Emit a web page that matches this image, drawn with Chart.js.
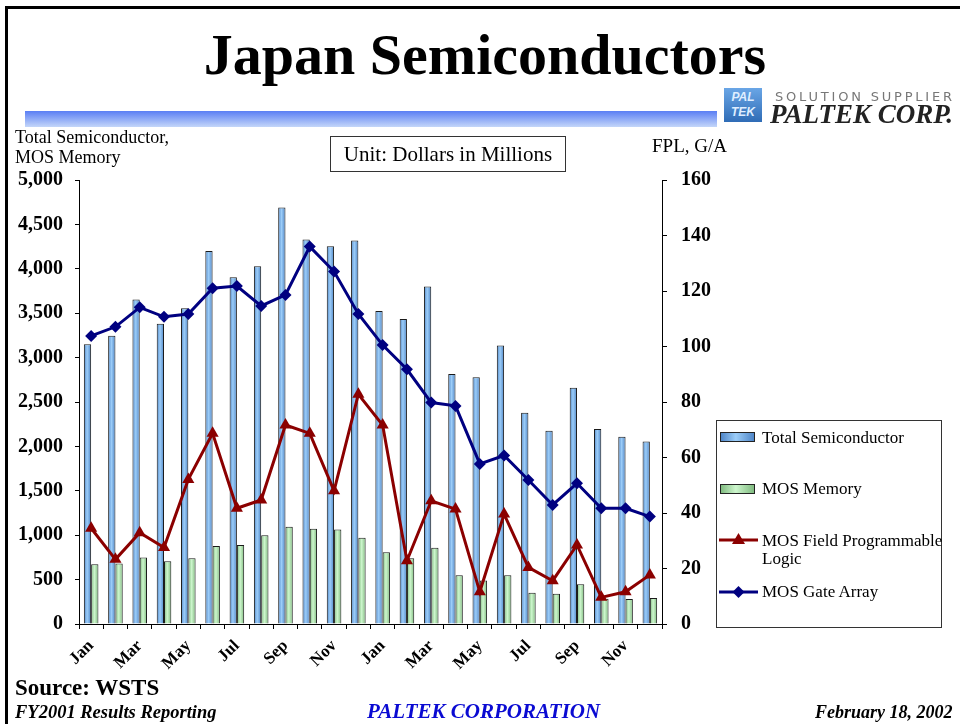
<!DOCTYPE html>
<html>
<head>
<meta charset="utf-8">
<script src="https://cdn.jsdelivr.net/npm/chart.js@4.4.1/dist/chart.umd.min.js"></script>
<style>
    body { margin: 0; background: #fff; }
    #wrap { position: relative; width: 960px; height: 724px; overflow: hidden; font-family: "Liberation Serif", "Times New Roman", serif; color: #000; }
    #chart { position: absolute; left: 0; top: 0; }
    .t { position: absolute; white-space: nowrap; line-height: 1; }
    #frame { position: absolute; left: 5px; top: 6px; width: 960px; height: 730px; border-top: 3px solid #000; border-left: 3px solid #000; box-sizing: border-box; }
    #band { position: absolute; left: 25px; top: 111px; width: 692px; height: 16px; background: linear-gradient(#5a7ef4, #c4d6f9); }
    #icon { position: absolute; left: 724px; top: 88px; width: 38px; height: 34px; background: linear-gradient(#6aa6e6, #2f6cb6); color: #dfeeff; font: italic bold 12px "Liberation Sans", sans-serif; line-height: 15px; text-align: center; padding-top: 2px; box-sizing: border-box; }
    #legend { position: absolute; left: 716px; top: 420px; width: 226px; height: 208px; border: 1px solid #333; box-sizing: border-box; }
    .sw { position: absolute; left: 720px; width: 35px; height: 10px; border: 1px solid #222; box-sizing: border-box; }
    .lg { position: absolute; left: 762px; font-size: 17px; line-height: 1; white-space: nowrap; }
</style>
</head>
<body>
<div id="wrap">
    <canvas id="chart" width="960" height="724"></canvas>
    <div id="frame"></div>

    <div class="t" style="left:0; width:970px; text-align:center; top:26px; font-size:58px; font-weight:bold;">Japan Semiconductors</div>
    <div id="band"></div>
    <div id="icon">PAL<br>TEK</div>
    <div class="t" style="left:775px; top:89px; font:13px 'DejaVu Sans', sans-serif; letter-spacing:2.8px; color:#777;">SOLUTION SUPPLIER</div>
    <div class="t" style="left:770px; top:101px; font-size:27px; font-weight:bold; font-style:italic; color:#222;">PALTEK CORP.</div>

    <div class="t" style="left:15px; top:128px; font-size:18px;">Total Semiconductor,</div>
    <div class="t" style="left:15px; top:148px; font-size:18px;">MOS Memory</div>
    <div class="t" style="left:330px; top:136px; width:236px; height:36px; border:1px solid #333; box-sizing:border-box; font-size:21px; text-align:center; padding-top:7px;">Unit: Dollars in Millions</div>
    <div class="t" style="left:652px; top:136px; font-size:19px;">FPL, G/A</div>

    <div id="legend"></div>
    <div class="sw" style="top:432px; background:linear-gradient(to right,#4f86c8,#9ccdf8 45%,#4f86c8);"></div>
    <div class="lg" style="top:429px;">Total Semiconductor</div>
    <div class="sw" style="top:484px; background:linear-gradient(to right,#80bb80,#cdf6cd 45%,#80bb80);"></div>
    <div class="lg" style="top:480px;">MOS Memory</div>
    <svg style="position:absolute; left:718px; top:530px;" width="42" height="20">
        <line x1="1" y1="10" x2="40" y2="10" stroke="#8b0000" stroke-width="3"/>
        <polygon points="20.5,3 27,14 14,14" fill="#8b0000"/>
    </svg>
    <div class="lg" style="top:532px;">MOS Field Programmable</div>
    <div class="lg" style="top:550px;">Logic</div>
    <svg style="position:absolute; left:718px; top:582px;" width="42" height="20">
        <line x1="1" y1="10" x2="40" y2="10" stroke="#000080" stroke-width="3"/>
        <polygon points="20.5,4 26.5,10 20.5,16 14.5,10" fill="#000080"/>
    </svg>
    <div class="lg" style="top:583px;">MOS Gate Array</div>

    <div class="t" style="left:15px; top:676px; font-size:23px; font-weight:bold;">Source: WSTS</div>
    <div class="t" style="left:15px; top:703px; font-size:18.5px; font-weight:bold; font-style:italic;">FY2001 Results Reporting</div>
    <div class="t" style="left:367px; top:701px; font-size:21px; font-weight:bold; font-style:italic; color:#0a0ad2;">PALTEK CORPORATION</div>
    <div class="t" style="left:815px; top:703px; font-size:18px; font-weight:bold; font-style:italic;">February 18, 2002</div>
</div>

<script>
"use strict";

// Jan 2000 .. Dec 2001
const months = ["Jan","Feb","Mar","Apr","May","Jun","Jul","Aug","Sep","Oct","Nov","Dec",
                "Jan","Feb","Mar","Apr","May","Jun","Jul","Aug","Sep","Oct","Nov","Dec"]

// left axis, $M
const totalSemi = [3150, 3245, 3655, 3380, 3555, 4200, 3905, 4030, 4690, 4330, 4255, 4320,
                   3525, 3435, 3800, 2815, 2780, 3135, 2380, 2175, 2660, 2195, 2110, 2055]
const mosMemory = [672, 680, 750, 706, 740, 878, 890, 1000, 1095, 1072, 1065, 972,
                   807, 740, 860, 548, 490, 548, 353, 341, 447, 285, 282, 293]

// right axis, $M
const fpl = [34.5, 23.3, 32.9, 27.6, 52.1, 68.7, 41.7, 44.7, 71.7, 68.7, 48.0, 82.8,
             71.7, 22.8, 44.4, 41.4, 11.6, 39.6, 20.4, 15.6, 28.5, 9.6, 11.6, 17.7]
const gateArray = [103.8, 107.1, 114.1, 110.7, 111.7, 121.0, 121.8, 114.6, 118.6, 136.0, 127.0, 111.7,
                   100.5, 91.8, 79.8, 78.6, 57.7, 60.7, 51.9, 42.9, 50.7, 41.7, 41.7, 38.7]

const leftTicks = [0, 5000, 500]
const rightTicks = [0, 160, 20]

const CAT_PCT = 0.6

// shaded look of the bars: darker edges, light middle
function barShade(dark, light) {
    return c => {
        const chart = c.chart
        const x = chart.scales.x
        if (!x || c.dataIndex === undefined || !chart.chartArea) return light
        const center = x.getPixelForValue(c.dataIndex)
        const w = x.width / months.length * CAT_PCT / 2
        const left = c.datasetIndex === 0 ? center - w : center
        const g = chart.ctx.createLinearGradient(left, 0, left + w, 0)
        g.addColorStop(0, dark)
        g.addColorStop(0.45, light)
        g.addColorStop(1, dark)
        return g
    }
}

const tickFont = { family: "Liberation Serif", weight: "bold", size: 20 }

const config = {
    data: {
        labels: months,
        datasets: [
            {
                type: "bar",
                label: "Total Semiconductor",
                data: totalSemi,
                yAxisID: "y",
                backgroundColor: barShade("#4f86c8", "#9ccdf8"),
                borderColor: "#1a1a1a",
                borderWidth: 1,
                barPercentage: 1.0,
                categoryPercentage: CAT_PCT,
                order: 2
            },
            {
                type: "bar",
                label: "MOS Memory",
                data: mosMemory,
                yAxisID: "y",
                backgroundColor: barShade("#80bb80", "#cdf6cd"),
                borderColor: "#1a1a1a",
                borderWidth: 1,
                barPercentage: 1.0,
                categoryPercentage: CAT_PCT,
                order: 2
            },
            {
                type: "line",
                label: "MOS Field Programmable Logic",
                data: fpl,
                yAxisID: "y2",
                borderColor: "#8b0000",
                backgroundColor: "#8b0000",
                borderWidth: 3,
                pointStyle: "triangle",
                pointRadius: 7,
                pointBorderWidth: 0,
                tension: 0,
                order: 1
            },
            {
                type: "line",
                label: "MOS Gate Array",
                data: gateArray,
                yAxisID: "y2",
                borderColor: "#000080",
                backgroundColor: "#000080",
                borderWidth: 3,
                pointStyle: "rectRot",
                pointRadius: 6,
                pointBorderWidth: 0,
                tension: 0,
                order: 0
            }
        ]
    },
    options: {
        responsive: false,
        animation: false,
        devicePixelRatio: 1,
        layout: { padding: { top: 180, left: 0, right: 0, bottom: 0 } },
        plugins: {
            legend: { display: false },
            tooltip: { enabled: false }
        },
        scales: {
            x: {
                type: "category",
                offset: true,
                grid: { offset: true, drawOnChartArea: false, tickLength: 5, color: "#000" },
                border: { color: "#000", width: 1 },
                ticks: {
                    autoSkip: false,
                    maxRotation: 45,
                    minRotation: 45,
                    color: "#000",
                    font: { family: "Liberation Serif", weight: "bold", size: 17 },
                    padding: 7,
                    callback: (v, i) => i % 2 === 0 ? months[i] : ""
                },
                afterFit: s => { s.height = 100 }
            },
            y: {
                position: "left",
                min: leftTicks[0],
                max: leftTicks[1],
                grid: { drawOnChartArea: false, tickLength: 4, color: "#000" },
                border: { color: "#000", width: 1 },
                ticks: {
                    stepSize: leftTicks[2],
                    color: "#000",
                    font: tickFont,
                    padding: 12,
                    callback: v => v.toLocaleString("en-US")
                },
                afterFit: s => { s.width = 79 }
            },
            y2: {
                position: "right",
                min: rightTicks[0],
                max: rightTicks[1],
                grid: { drawOnChartArea: false, tickLength: 5, color: "#000" },
                border: { color: "#000", width: 1 },
                ticks: {
                    stepSize: rightTicks[2],
                    color: "#000",
                    font: tickFont,
                    padding: 14
                },
                afterFit: s => { s.width = 298 }
            }
        }
    }
}

const ctx = document.getElementById("chart")
const chart = new Chart(ctx, config)
</script>
</body>
</html>
